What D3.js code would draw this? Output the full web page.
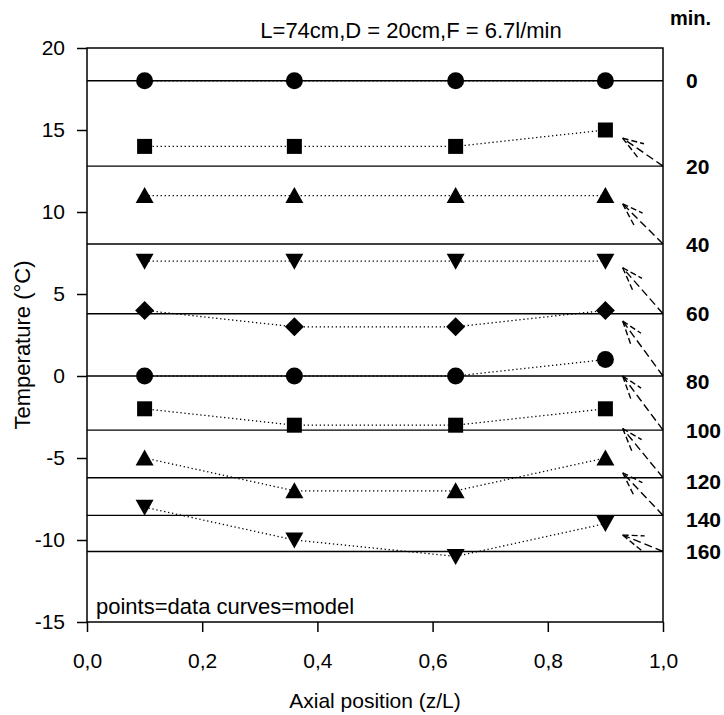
<!DOCTYPE html>
<html><head><meta charset="utf-8">
<script src="https://cdn.jsdelivr.net/npm/d3@7"></script>
<style>body{margin:0;background:#fff}svg{display:block}</style>
</head><body><svg id="c" width="724" height="715"></svg>
<script>
// ---- data ----
const positions = [0.1, 0.36, 0.64, 0.9];
const times = [0, 20, 40, 60, 80, 100, 120, 140, 160];
const symbolNames = ["circle","square","triangle","triangleDown","diamond","circle","square","triangle","triangleDown"];
const t0   = [18, 18, 18, 18];
const t20  = [14, 14, 14, 15];
const t40  = [11, 11, 11, 11];
const t60  = [7, 7, 7, 7];
const t80  = [4, 3, 3, 4];
const t100 = [0, 0, 0, 1];
const t120 = [-2, -3, -3, -2];
const t140 = [-5, -7, -7, -5];
const t160 = [-8, -10, -11, -9];
const series = [t0, t20, t40, t60, t80, t100, t120, t140, t160];
const modelValues = [18, 12.8, 8.05, 3.8, 0, -3.3, -6.2, -8.5, -10.7];
const labelValues = [18, 12.8, 8.05, 3.8, -0.35, -3.3, -6.4, -8.75, -10.7];
const arrowTipX = 0.93;
const arrowTipY = [null, 14.5, 10.5, 6.6, 3.35, 0, -3.2, -5.9, -9.7];
const xTicks = [0, 0.2, 0.4, 0.6, 0.8, 1.0];
const yTicks = [-15, -10, -5, 0, 5, 10, 15, 20];
const title = "L=74cm,D = 20cm,F = 6.7l/min";
const xTitle = "Axial position (z/L)";
const yTitle = "Temperature (\u00B0C)";
const note = "points=data curves=model";

// ---- chart ----
const font = "Arial, 'Liberation Sans', Helvetica, sans-serif";
const svg = d3.select("#c");
const L = 87, R = 663, T = 48, B = 622;
const x = d3.scaleLinear().domain([0, 1]).range([L, R]);
const y = d3.scaleLinear().domain([-15, 20]).range([B, T]);

const fmt = d => d3.format(".1f")(d).replace(".", ",");

const gx = svg.append("g").attr("transform", `translate(0,${B})`)
  .call(d3.axisBottom(x).tickValues(xTicks).tickFormat(fmt).tickSize(10).tickPadding(21));
const gy = svg.append("g").attr("transform", `translate(${L},0)`)
  .call(d3.axisLeft(y).tickValues(yTicks).tickFormat(d => String(d)).tickSize(10).tickPadding(12));
[gx, gy].forEach(g => {
  g.select(".domain").remove();
  g.selectAll("line").attr("stroke", "#000").attr("stroke-width", 1.5);
  g.selectAll("text").attr("font-family", font).attr("font-size", 21).attr("fill", "#000");
});

// frame
svg.append("rect").attr("x", L).attr("y", T).attr("width", R - L).attr("height", B - T)
  .attr("fill", "none").attr("stroke", "#000").attr("stroke-width", 1.5);

// model lines
svg.append("g").selectAll("line").data(modelValues).join("line")
  .attr("x1", x(0)).attr("x2", x(1)).attr("y1", d => y(d)).attr("y2", d => y(d))
  .attr("stroke", "#000").attr("stroke-width", 1.4);

// dotted data lines
const line = d3.line().x((d, i) => x(positions[i])).y(d => y(d));
svg.append("g").selectAll("path").data(series).join("path")
  .attr("d", line).attr("fill", "none").attr("stroke", "#000")
  .attr("stroke-width", 1.3).attr("stroke-dasharray", "1.3,2.7");

// markers
function sym(name) {
  switch (name) {
    case "circle": return "M0,-8.5A8.5,8.5 0 1,1 0,8.5A8.5,8.5 0 1,1 0,-8.5Z";
    case "square": return "M-7.5,-7.5H7.5V7.5H-7.5Z";
    case "triangle": return "M0,-8.5L9,7.5H-9Z";
    case "triangleDown": return "M0,8.5L9,-7.5H-9Z";
    case "diamond": return "M0,-9.5L9.5,0L0,9.5L-9.5,0Z";
  }
}
series.forEach((s, k) => {
  svg.append("g").selectAll("path").data(s).join("path")
    .attr("transform", (d, i) => `translate(${x(positions[i])},${y(d)})`)
    .attr("d", sym(symbolNames[k])).attr("fill", "#000");
});

// arrows
const ag = svg.append("g").attr("stroke", "#000").attr("stroke-width", 1.4).attr("fill", "none");
times.forEach((t, k) => {
  if (arrowTipY[k] === null) return;
  const x0 = x(1), y0 = y(modelValues[k]);
  const x1 = x(arrowTipX), y1 = y(arrowTipY[k]);
  ag.append("line").attr("x1", x0).attr("y1", y0).attr("x2", x1).attr("y2", y1)
    .attr("stroke-dasharray", "8,4");
  const ang = Math.atan2(y0 - y1, x0 - x1);
  [[-0.35, 22], [0.3, 24]].forEach(([da, len]) => {
    ag.append("line").attr("x1", x1).attr("y1", y1)
      .attr("x2", x1 + len * Math.cos(ang + da)).attr("y2", y1 + len * Math.sin(ang + da))
      .attr("stroke-dasharray", "6,3");
  });
});

// right labels
svg.append("text").attr("x", 670).attr("y", 25).text("min.")
  .attr("font-family", font).attr("font-size", 20).attr("font-weight", "bold");
svg.append("g").selectAll("text").data(times).join("text")
  .attr("x", 686).attr("y", (d, k) => y(labelValues[k])).attr("dy", "0.36em")
  .text(d => d).attr("font-family", font).attr("font-size", 21).attr("font-weight", "bold");

// titles
svg.append("text").attr("x", 411).attr("y", 38).attr("text-anchor", "middle").text(title)
  .attr("font-family", font).attr("font-size", 22);
svg.append("text").attr("x", 375).attr("y", 708).attr("text-anchor", "middle").text(xTitle)
  .attr("font-family", font).attr("font-size", 21);
svg.append("text").attr("transform", "translate(30,345) rotate(-90)").attr("text-anchor", "middle").text(yTitle)
  .attr("font-family", font).attr("font-size", 22);
svg.append("text").attr("x", 96).attr("y", 614).text(note)
  .attr("font-family", font).attr("font-size", 22);
</script></body></html>
